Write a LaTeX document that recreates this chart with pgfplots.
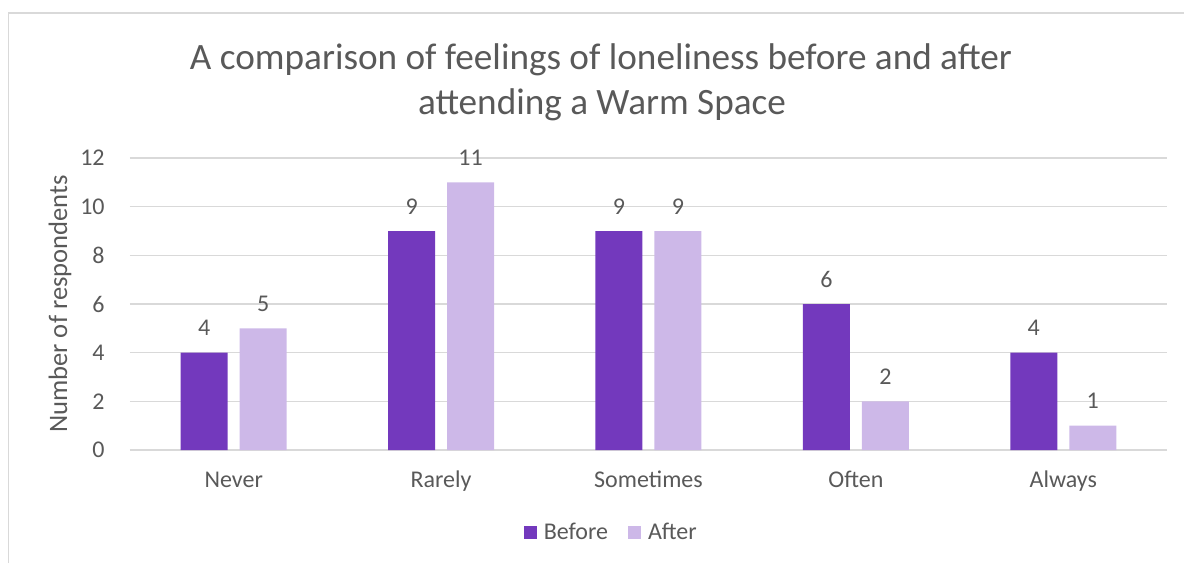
\documentclass[border=0pt]{standalone}
\usepackage{fontspec}
\setmainfont{Carlito}
\usepackage{pgfplots}
\pgfplotsset{compat=1.18}
\definecolor{before}{HTML}{7339BD}
\definecolor{after}{HTML}{CDB8E8}
\definecolor{txt}{HTML}{595959}
\definecolor{gridc}{HTML}{D9D9D9}
\begin{document}
\begin{tikzpicture}
\path[use as bounding box] (0,0) rectangle (592pt,281.5pt);
\begin{axis}[
  at={(65pt,56.5pt)}, anchor=south west,
  scale only axis, width=518.5pt, height=146pt,
  ybar=6pt, bar width=23.5pt,
  xmin=-0.5, xmax=4.5, ymin=0, ymax=12,
  xtick={0,1,2,3,4}, xticklabels={Never,Rarely,Sometimes,Often,Always},
  ytick={0,2,4,6,8,10,12},
  ymajorgrids, grid style={gridc, line width=0.75pt},
  axis line style={draw=none},
  major tick length=0pt,
  /pgf/number format/assume math mode=true,
  tick label style={font=\fontsize{12}{14}\selectfont, text=txt},
  xticklabel style={anchor=base, inner sep=0pt, yshift=-18.5pt},
  yticklabel style={anchor=east, inner sep=0pt, xshift=-12.5pt},
  ylabel={Number of respondents},
  ylabel style={at={(axis description cs:-0.0675,0.5)}, anchor=center, font=\fontsize{13.3}{15}\selectfont, text=txt},
  nodes near coords,
  every node near coord/.append style={font=\fontsize{12}{14}\selectfont, text=txt, anchor=base, inner sep=0pt, yshift=8.5pt},
  legend style={at={(0.4665,-0.284)}, anchor=center, draw=none, fill=none, font=\fontsize{12}{14}\selectfont, text=txt, legend columns=2, /tikz/every even column/.append style={column sep=6.5pt}, legend cell align=left, nodes={inner xsep=3.5pt}},
]
\addplot[fill=before, draw=none, legend image code/.code={\fill[before] (0pt,-3.25pt) rectangle (6.5pt,3.25pt);}] coordinates {(0,4) (1,9) (2,9) (3,6) (4,4)};
\addplot[fill=after, draw=none, legend image code/.code={\fill[after] (0pt,-3.25pt) rectangle (6.5pt,3.25pt);}] coordinates {(0,5) (1,11) (2,9) (3,2) (4,1)};
\legend{Before, After}
\end{axis}
\draw[gridc, line width=0.75pt] (4.25pt,0) -- (4.25pt,275pt) -- (592pt,275pt);
\node[anchor=base, font=\fontsize{18.6}{22.5}\selectfont, text=txt, inner sep=0pt] at (300.5pt,246.5pt) {A comparison of feelings of loneliness before and after};
\node[anchor=base, font=\fontsize{18.6}{22.5}\selectfont, text=txt, inner sep=0pt] at (301pt,224pt) {attending a Warm Space};
\end{tikzpicture}
\end{document}
